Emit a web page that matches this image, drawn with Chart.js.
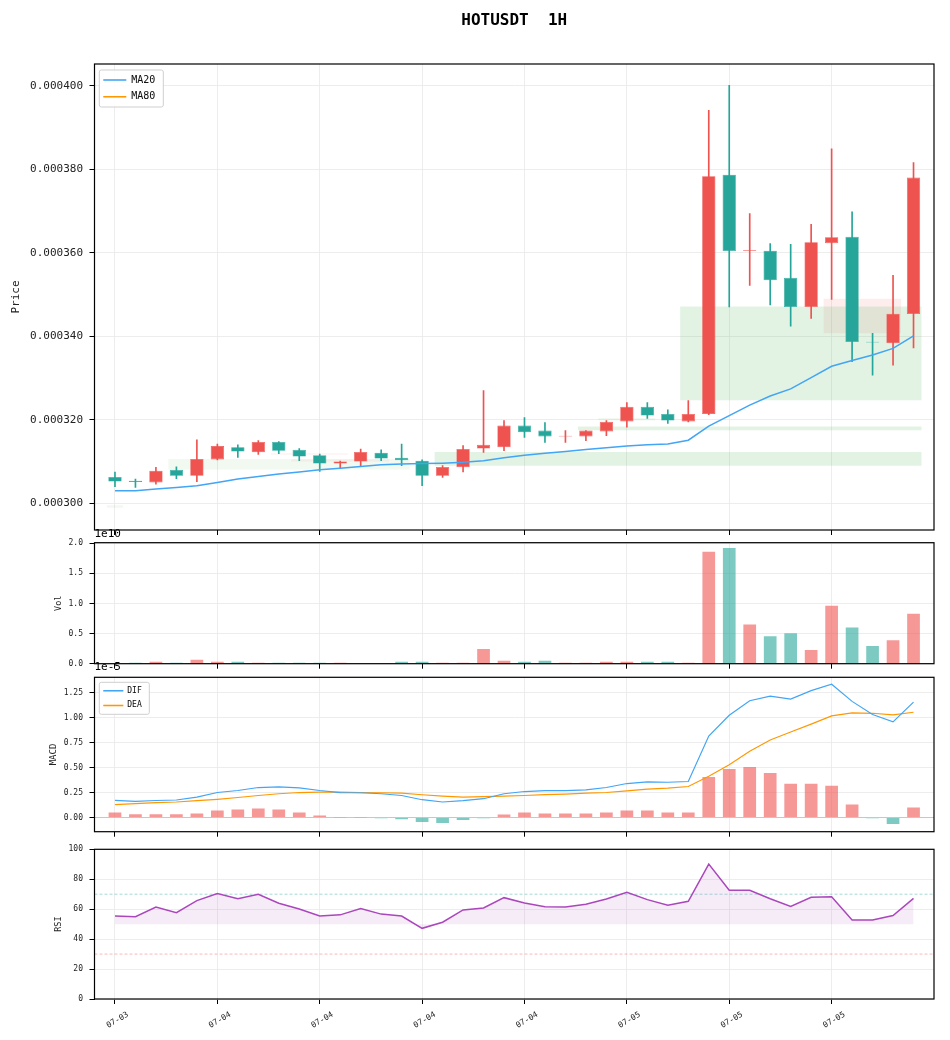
<!DOCTYPE html>
<html>
<head>
<meta charset="utf-8">
<title>HOTUSDT 1H</title>
<script src="https://cdn.jsdelivr.net/npm/chart.js@4.4.1/dist/chart.umd.min.js"></script>
<style>
  html, body { margin: 0; padding: 0; background: #fff; }
  #wrap { position: relative; width: 950px; height: 1040px; overflow: hidden; }
  .panel { position: absolute; left: 0; width: 950px; }
</style>
</head>
<body>
<div id="wrap">
  <div class="panel" style="top:0px"><canvas id="priceChart" width="950" height="545"></canvas></div>
  <div class="panel" style="top:525px"><canvas id="volChart" width="950" height="150"></canvas></div>
  <div class="panel" style="top:658px"><canvas id="macdChart" width="950" height="185"></canvas></div>
  <div class="panel" style="top:838px"><canvas id="rsiChart" width="950" height="202"></canvas></div>
</div>
<script>
// ---- data (one candle per hour, index 0..39) ----
const xTicks = [0, 5, 10, 15, 20, 25, 30, 35];
const xTickLabels = ['07-03', '07-04', '07-04', '07-04', '07-04', '07-05', '07-05', '07-05'];

const open = [0.0003063, 0.0003054, 0.0003050, 0.0003080, 0.0003066, 0.0003105, 0.0003134, 0.0003122, 0.0003147, 0.0003128,
  0.0003115, 0.0003095, 0.0003100, 0.0003121, 0.0003109, 0.0003102, 0.0003066, 0.0003086, 0.0003131, 0.0003134,
  0.0003186, 0.0003174, 0.0003160, 0.0003160, 0.0003172, 0.0003196, 0.0003231, 0.0003214, 0.0003196, 0.0003214,
  0.0003787, 0.0003604, 0.0003605, 0.0003540, 0.0003470, 0.0003623, 0.0003638, 0.0003387, 0.0003383, 0.0003453];
const high = [0.0003075, 0.0003058, 0.0003086, 0.0003087, 0.0003152, 0.0003142, 0.0003140, 0.0003150, 0.0003148, 0.0003131,
  0.0003118, 0.0003101, 0.0003130, 0.0003128, 0.0003142, 0.0003104, 0.0003090, 0.0003138, 0.0003270, 0.0003198,
  0.0003205, 0.0003193, 0.0003174, 0.0003174, 0.0003198, 0.0003241, 0.0003241, 0.0003224, 0.0003246, 0.0003941,
  0.0004001, 0.0003694, 0.0003622, 0.0003620, 0.0003668, 0.0003849, 0.0003698, 0.0003407, 0.0003546, 0.0003816];
const low = [0.0003040, 0.0003038, 0.0003046, 0.0003059, 0.0003052, 0.0003104, 0.0003110, 0.0003117, 0.0003119, 0.0003102,
  0.0003076, 0.0003085, 0.0003089, 0.0003102, 0.0003090, 0.0003042, 0.0003062, 0.0003075, 0.0003122, 0.0003126,
  0.0003158, 0.0003146, 0.0003146, 0.0003150, 0.0003162, 0.0003182, 0.0003203, 0.0003191, 0.0003195, 0.0003212,
  0.0003470, 0.0003522, 0.0003475, 0.0003424, 0.0003443, 0.0003488, 0.0003339, 0.0003307, 0.0003331, 0.0003372];
const close = [0.0003052, 0.0003051, 0.0003078, 0.0003066, 0.0003106, 0.0003137, 0.0003124, 0.0003147, 0.0003126, 0.0003112,
  0.0003095, 0.0003100, 0.0003123, 0.0003107, 0.0003103, 0.0003066, 0.0003087, 0.0003130, 0.0003140, 0.0003186,
  0.0003170, 0.0003160, 0.0003162, 0.0003174, 0.0003195, 0.0003231, 0.0003210, 0.0003198, 0.0003214, 0.0003783,
  0.0003604, 0.0003606, 0.0003534, 0.0003470, 0.0003625, 0.0003637, 0.0003386, 0.0003385, 0.0003454, 0.0003780];

const ma20 = [0.0003030, 0.0003030, 0.0003034, 0.0003038, 0.0003042, 0.0003050, 0.0003058, 0.0003064, 0.0003070, 0.0003075,
  0.0003080, 0.0003084, 0.0003088, 0.0003092, 0.0003094, 0.0003095, 0.0003096, 0.0003098, 0.0003102, 0.0003109,
  0.0003115, 0.0003120, 0.0003124, 0.0003129, 0.0003133, 0.0003137, 0.0003140, 0.0003142, 0.0003151, 0.0003185,
  0.0003210, 0.0003235, 0.0003257, 0.0003274, 0.0003301, 0.0003328, 0.0003342, 0.0003355, 0.0003371, 0.0003401];
// not enough history for an 80 period average in this window
const ma80 = new Array(40).fill(null);

// support / resistance zones: first and last candle covered, price band
const zoneFrom = [0, 3, 8, 9, 16, 23, 24, 28, 35];
const zoneTo = [0, 14, 11, 13, 39, 39, 26, 39, 38];
const zoneLow = [0.0002989, 0.0003081, 0.0003116, 0.0003100, 0.0003090, 0.0003175, 0.0003198, 0.0003247, 0.0003407];
const zoneHigh = [0.0002995, 0.0003106, 0.0003120, 0.0003105, 0.0003123, 0.0003184, 0.0003204, 0.0003471, 0.0003490];
const zoneKind = ['support', 'support', 'resistance', 'resistance', 'support', 'support', 'support', 'support', 'resistance'];
const zoneStrong = [false, false, false, false, true, true, false, true, true];

const volumeE10 = [0.010, 0.016, 0.033, 0.016, 0.065, 0.033, 0.033, 0.016, 0.016, 0.016,
  0.016, 0.016, 0.006, 0.006, 0.033, 0.033, 0.016, 0.016, 0.245, 0.049,
  0.033, 0.049, 0.016, 0.016, 0.033, 0.033, 0.033, 0.033, 0.016, 1.858,
  1.923, 0.652, 0.456, 0.505, 0.228, 0.962, 0.603, 0.293, 0.391, 0.831];

const difE5 = [0.171, 0.162, 0.170, 0.175, 0.204, 0.250, 0.270, 0.300, 0.307, 0.297,
  0.270, 0.250, 0.248, 0.238, 0.220, 0.178, 0.155, 0.168, 0.188, 0.238,
  0.260, 0.270, 0.270, 0.277, 0.300, 0.340, 0.356, 0.353, 0.360, 0.815,
  1.023, 1.168, 1.215, 1.185, 1.270, 1.334, 1.162, 1.030, 0.957, 1.155];
const deaE5 = [0.129, 0.139, 0.149, 0.155, 0.168, 0.182, 0.200, 0.220, 0.238, 0.250,
  0.254, 0.254, 0.250, 0.248, 0.244, 0.228, 0.214, 0.204, 0.208, 0.214,
  0.220, 0.228, 0.234, 0.244, 0.250, 0.267, 0.284, 0.294, 0.310, 0.413,
  0.528, 0.663, 0.775, 0.855, 0.934, 1.017, 1.047, 1.043, 1.027, 1.053];
const histE5 = [0.050, 0.033, 0.033, 0.033, 0.040, 0.069, 0.079, 0.089, 0.079, 0.050,
  0.020, 0.003, 0.002, -0.007, -0.017, -0.046, -0.056, -0.026, -0.007, 0.030,
  0.050, 0.040, 0.040, 0.040, 0.050, 0.069, 0.069, 0.050, 0.050, 0.406,
  0.485, 0.505, 0.446, 0.337, 0.337, 0.317, 0.129, -0.007, -0.066, 0.099];

const rsi = [55.4, 55.0, 61.4, 57.7, 65.7, 70.5, 67.0, 70.0, 64.0, 60.1,
  55.4, 56.2, 60.5, 56.7, 55.4, 47.2, 51.3, 59.5, 60.8, 67.7,
  64.2, 61.6, 61.4, 63.3, 66.8, 71.3, 66.4, 62.7, 65.3, 90.1,
  72.6, 72.6, 67.0, 61.8, 67.9, 68.3, 52.8, 52.8, 55.8, 67.2];
const rsiOverbought = 70, rsiOversold = 30, rsiMid = 50;

const priceTicks = [0.0003, 0.00032, 0.00034, 0.00036, 0.00038, 0.0004];
const volTicks = [0, 0.5, 1.0, 1.5, 2.0];
const macdTicks = [0, 0.25, 0.5, 0.75, 1.0, 1.25];
const rsiTicks = [0, 20, 40, 60, 80, 100];

// ---- styling ----
Chart.defaults.font.family = "'DejaVu Sans Mono', monospace";
Chart.defaults.color = '#222';
Chart.defaults.animation = false;

const UP = '#ef5350', DOWN = '#26a69a';
const UP_SOFT = 'rgba(239,83,80,0.6)', DOWN_SOFT = 'rgba(38,166,154,0.6)';
const GRID = '#e8e8e8';
const X_MIN = -1, X_MAX = 40;
const isUp = open.map((o, i) => close[i] >= o);
const pts = arr => arr.map((v, i) => ({x: i, y: v}));

// full box around every plot, matplotlib style
const frame = {
  id: 'frame',
  afterDatasetsDraw(chart) {
    const {ctx, chartArea: a} = chart;
    ctx.save();
    ctx.strokeStyle = '#000';
    ctx.lineWidth = 1.2;
    ctx.strokeRect(a.left, a.top, a.right - a.left, a.bottom - a.top);
    ctx.restore();
  }
};

// moves the chart.js legend inside the plot (top left) and gives it a box
const legendInside = {
  id: 'legendInside',
  beforeUpdate(chart) {
    const lg = chart.legend;
    if (!lg || lg._inside) return;
    lg._inside = true;
    const fit = lg.fit;
    lg.fit = function () {
      fit.call(this);
      this.width = 0;
      this.height = 0;
    };
  },
  afterLayout(chart, args, o) {
    const lg = chart.legend, a = chart.chartArea;
    const pad = chart.options.plugins.legend.labels.padding;
    lg.left = a.left + o.x + o.inX - pad;
    lg.top = a.top + o.y + o.inY - pad;
    lg.right = lg.left + o.w + 2 * pad;
    lg.bottom = lg.top + o.h + 2 * pad;
    lg.width = lg.right - lg.left;
    lg.height = lg.bottom - lg.top;
  },
  beforeDatasetsDraw(chart, args, o) {
    const {ctx, chartArea: a} = chart;
    ctx.save();
    ctx.beginPath();
    ctx.roundRect(a.left + o.x, a.top + o.y, o.w, o.h, 2);
    ctx.fillStyle = 'rgba(255,255,255,0.85)';
    ctx.fill();
    ctx.strokeStyle = '#cfcfcf';
    ctx.lineWidth = 1;
    ctx.stroke();
    ctx.restore();
    chart.legend.draw();
  }
};

function legendOpts(names, size, boxWidth, padding) {
  return {
    display: true,
    position: 'left',
    align: 'start',
    labels: {
      boxWidth: boxWidth,
      boxHeight: 1.5,
      padding: padding,
      color: '#111',
      font: {size: size},
      filter: item => names.includes(item.text),
      generateLabels: chart => Chart.defaults.plugins.legend.labels.generateLabels(chart)
        .map(item => Object.assign(item, {lineWidth: 0}))
    }
  };
}

function xScale(showLabels) {
  return {
    type: 'linear',
    min: X_MIN,
    max: X_MAX,
    offset: false,
    afterBuildTicks: s => { s.ticks = xTicks.map(v => ({value: v})); },
    afterFit: s => { s.height = showLabels ? 40 : 8; },
    grid: {color: GRID, lineWidth: 0.8, offset: false, tickColor: '#000', tickWidth: 1, tickLength: 5},
    border: {display: false},
    ticks: {
      display: showLabels,
      autoSkip: false,
      minRotation: 30,
      maxRotation: 30,
      labelOffset: 13,
      padding: 6,
      font: {size: 8},
      callback: (v, i) => xTickLabels[i]
    }
  };
}

function yScale(min, max, ticks, fmt, title, titleSize, titlePad, tickSize) {
  return {
    min: min,
    max: max,
    afterBuildTicks: s => { s.ticks = ticks.map(v => ({value: v})); },
    afterFit: s => { s.width = 94.5; },
    grid: {color: GRID, lineWidth: 0.8, tickColor: '#000', tickWidth: 1, tickLength: 5},
    border: {display: false},
    ticks: {font: {size: tickSize}, padding: 6.5, callback: fmt},
    title: {display: true, text: title, font: {size: titleSize}, padding: {top: titlePad, bottom: 0}, color: '#222'}
  };
}

// ---- price panel ----
const zoneSets = zoneFrom.map((from, k) => {
  const support = zoneKind[k] === 'support';
  const alpha = support ? (zoneStrong[k] ? 0.16 : 0.08) : (zoneStrong[k] ? 0.1 : 0.07);
  return {
    type: 'line',
    label: 'zone' + k,
    data: [{x: from - 0.4, y: zoneHigh[k]}, {x: zoneTo[k] + 0.4, y: zoneHigh[k]}],
    fill: {value: zoneLow[k]},
    backgroundColor: support ? `rgba(76,175,80,${alpha})` : `rgba(239,83,80,${alpha})`,
    borderColor: 'rgba(0,0,0,0)',
    borderWidth: 0,
    pointRadius: 0
  };
});

new Chart(document.getElementById('priceChart'), {
  type: 'bar',
  data: {
    datasets: [
      {type: 'line', label: 'MA20', data: pts(ma20), borderColor: '#42a5f5', backgroundColor: '#42a5f5',
        borderWidth: 1.5, pointRadius: 0, fill: false},
      {type: 'line', label: 'MA80', data: pts(ma80), borderColor: '#ff9800', backgroundColor: '#ff9800',
        borderWidth: 1.5, pointRadius: 0, fill: false},
      {label: 'body', data: open.map((o, i) => ({x: i, y: [o, close[i]]})),
        backgroundColor: isUp.map(u => u ? UP : DOWN), borderColor: isUp.map(u => u ? UP : DOWN),
        borderWidth: 0.6, borderSkipped: false, grouped: false, barPercentage: 0.65, categoryPercentage: 1},
      {label: 'wick', data: low.map((l, i) => ({x: i, y: [l, high[i]]})),
        backgroundColor: isUp.map(u => u ? UP : DOWN), borderWidth: 0, grouped: false, barThickness: 1},
      ...zoneSets
    ]
  },
  options: {
    responsive: false,
    events: [],
    layout: {padding: {left: 0, right: 16, top: 0, bottom: 7}, autoPadding: false},
    scales: {
      x: xScale(false),
      y: yScale(0.0002936, 0.0004052, priceTicks, v => v.toFixed(6), 'Price', 11, 9.4, 11)
    },
    plugins: {
      title: {display: true, text: 'HOTUSDT  1H', fullSize: false, color: '#000',
        font: {size: 16, weight: 'bold'}, padding: {top: 11, bottom: 33.8}},
      legend: legendOpts(['MA20', 'MA80'], 10, 23, 6.7),
      legendInside: {x: 4.8, y: 6, w: 64, h: 37, inX: 4, inY: 5},
      tooltip: {enabled: false}
    }
  },
  plugins: [frame, legendInside]
});

// ---- volume panel ----
new Chart(document.getElementById('volChart'), {
  type: 'bar',
  data: {
    datasets: [{label: 'Vol', data: pts(volumeE10), backgroundColor: isUp.map(u => u ? UP_SOFT : DOWN_SOFT),
      borderWidth: 0, grouped: false, barPercentage: 0.62, categoryPercentage: 1}]
  },
  options: {
    responsive: false,
    events: [],
    layout: {padding: {left: 0, right: 16, top: 0, bottom: 1}, autoPadding: false},
    scales: {
      x: xScale(false),
      y: yScale(0, 2.01, volTicks, v => v.toFixed(1), 'Vol', 8.5, 54, 8)
    },
    plugins: {
      title: {display: true, text: '1e10', align: 'start', fullSize: false, color: '#000',
        font: {size: 11, weight: 'normal'}, padding: {top: 3, bottom: 1.5}},
      legend: {display: false},
      tooltip: {enabled: false}
    }
  },
  plugins: [frame]
});

// ---- MACD panel ----
new Chart(document.getElementById('macdChart'), {
  type: 'bar',
  data: {
    datasets: [
      {type: 'line', label: 'DIF', data: pts(difE5), borderColor: '#42a5f5', backgroundColor: '#42a5f5',
        borderWidth: 1.2, pointRadius: 0, fill: false},
      {type: 'line', label: 'DEA', data: pts(deaE5), borderColor: '#ff9800', backgroundColor: '#ff9800',
        borderWidth: 1.2, pointRadius: 0, fill: false},
      {label: 'MACD', data: pts(histE5), backgroundColor: histE5.map(v => v >= 0 ? UP_SOFT : DOWN_SOFT),
        borderWidth: 0, grouped: false, barPercentage: 0.62, categoryPercentage: 1},
      {type: 'line', label: 'zero', data: [{x: X_MIN, y: 0}, {x: X_MAX, y: 0}],
        borderColor: 'rgba(128,128,128,0.35)', borderWidth: 1.2, pointRadius: 0, fill: false}
    ]
  },
  options: {
    responsive: false,
    events: [],
    layout: {padding: {left: 0, right: 16, top: 0, bottom: 1.7}, autoPadding: false},
    scales: {
      x: xScale(false),
      y: yScale(-0.142, 1.403, macdTicks, v => v.toFixed(2), 'MACD', 9, 48, 8)
    },
    plugins: {
      title: {display: true, text: '1e-5', align: 'start', fullSize: false, color: '#000',
        font: {size: 11, weight: 'normal'}, padding: {top: 3, bottom: 3.1}},
      legend: legendOpts(['DIF', 'DEA'], 8, 20, 6.7),
      legendInside: {x: 4.8, y: 5, w: 50, h: 32, inX: 4, inY: 4.4},
      tooltip: {enabled: false}
    }
  },
  plugins: [frame, legendInside]
});

// ---- RSI panel ----
new Chart(document.getElementById('rsiChart'), {
  type: 'line',
  data: {
    datasets: [
      {label: 'RSI', data: pts(rsi), borderColor: '#ab47bc', borderWidth: 1.5, pointRadius: 0,
        fill: {value: rsiMid}, backgroundColor: 'rgba(171,71,188,0.1)'},
      {label: 'overbought', data: [{x: X_MIN, y: rsiOverbought}, {x: X_MAX, y: rsiOverbought}],
        borderColor: 'rgba(38,166,154,0.5)', borderWidth: 0.8, borderDash: [3, 2], pointRadius: 0, fill: false},
      {label: 'oversold', data: [{x: X_MIN, y: rsiOversold}, {x: X_MAX, y: rsiOversold}],
        borderColor: 'rgba(239,83,80,0.5)', borderWidth: 0.8, borderDash: [3, 2], pointRadius: 0, fill: false}
    ]
  },
  options: {
    responsive: false,
    events: [],
    layout: {padding: {left: 0, right: 16, top: 6.3, bottom: 1}, autoPadding: false},
    scales: {
      x: xScale(true),
      y: yScale(0, 100, rsiTicks, v => String(v), 'RSI', 8.5, 53.5, 8)
    },
    plugins: {
      legend: {display: false},
      tooltip: {enabled: false}
    }
  },
  plugins: [frame]
});
</script>
</body>
</html>
